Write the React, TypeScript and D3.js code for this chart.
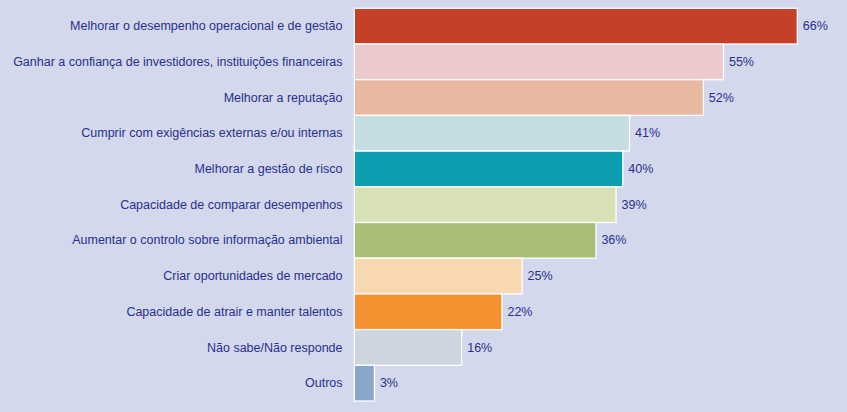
import React from "react";
import * as d3 from "d3";

const categories = [
  "Melhorar o desempenho operacional e de gestão",
  "Ganhar a confiança de investidores, instituições financeiras",
  "Melhorar a reputação",
  "Cumprir com exigências externas e/ou internas",
  "Melhorar a gestão de risco",
  "Capacidade de comparar desempenhos",
  "Aumentar o controlo sobre informação ambiental",
  "Criar oportunidades de mercado",
  "Capacidade de atrair e manter talentos",
  "Não sabe/Não responde",
  "Outros",
];
const values = [66, 55, 52, 41, 40, 39, 36, 25, 22, 16, 3];
const colors = [
  "#c44027",
  "#eacacd",
  "#e9b8a0",
  "#c5dde1",
  "#0b9fb0",
  "#d8e1b6",
  "#abbe78",
  "#f8d8b0",
  "#f49232",
  "#ccd5e0",
  "#8ba6cb",
];

const W = 847;
const H = 412;
const BG = "#d4d8ec";
const TEXT = "#26308c";

export default function App() {
  const x = d3.scaleLinear().domain([0, 66]).range([354.3, 797.3]);
  const y = d3
    .scaleBand<string>()
    .domain(categories)
    .range([8.3, 401])
    .paddingInner(0)
    .paddingOuter(0);
  return (
    <div style={{ position: "fixed", left: 0, top: 0, width: W, height: H, background: BG }}>
      <svg width={W} height={H} style={{ display: "block" }} fontFamily="'Liberation Sans', Arial, sans-serif">
        <rect x={0} y={0} width={W} height={H} fill={BG} />
        {categories.map((c, i) => {
          const y0 = y(c)!;
          const bw = y.bandwidth();
          return (
            <g key={c}>
              <rect
                x={x(0)}
                y={y0}
                width={x(values[i]) - x(0)}
                height={bw}
                fill={colors[i]}
                stroke="#ffffff"
                strokeWidth={1.3}
              />
              <text
                x={342.5}
                y={y0 + bw / 2}
                dy="0.33em"
                textAnchor="end"
                fontSize={12.5}
                fill={TEXT}
              >
                {c}
              </text>
              <text
                x={x(values[i]) + 5.5}
                y={y0 + bw / 2}
                dy="0.33em"
                fontSize={12.5}
                fill={TEXT}
              >
                {values[i] + "%"}
              </text>
            </g>
          );
        })}
      </svg>
    </div>
  );
}
